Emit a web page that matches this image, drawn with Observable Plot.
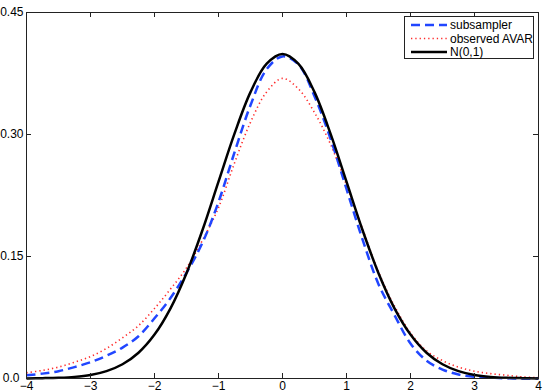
<!DOCTYPE html>
<html>
<head>
<meta charset="utf-8">
<script src="https://cdn.jsdelivr.net/npm/d3@7"></script>
<script src="https://cdn.jsdelivr.net/npm/@observablehq/plot@0.6"></script>
<style>
  html, body { margin: 0; padding: 0; background: #fff; }
  #chart { width: 547px; height: 392px; }
</style>
</head>
<body>
<div id="chart"></div>
<script>
const xs = [-4,-3.75,-3.5,-3.25,-3,-2.75,-2.5,-2.25,-2,-1.75,-1.5,-1.25,-1,-0.75,-0.5,-0.25,0,0.25,0.5,0.75,1,1.25,1.5,1.75,2,2.25,2.5,2.75,3,3.25,3.5,3.75,4];
const subsampler = [0.004,0.006,0.009,0.014,0.020,0.028,0.038,0.052,0.074,0.099,0.130,0.167,0.217,0.278,0.336,0.380,0.396,0.386,0.347,0.295,0.233,0.171,0.116,0.078,0.043,0.022,0.011,0.005,0.002,0.001,0.0003,0.0001,0];
const observedAVAR = [0.007,0.010,0.014,0.020,0.027,0.037,0.050,0.065,0.086,0.110,0.136,0.170,0.210,0.265,0.315,0.352,0.369,0.356,0.327,0.288,0.238,0.184,0.131,0.089,0.056,0.034,0.022,0.014,0.009,0.006,0.004,0.002,0.001];
const normal01 = [0.0001,0.0004,0.0009,0.002,0.0044,0.0091,0.0175,0.0317,0.054,0.0863,0.1295,0.1826,0.242,0.3011,0.3521,0.3867,0.3989,0.3867,0.3521,0.3011,0.242,0.1826,0.1295,0.0863,0.054,0.0317,0.0175,0.0091,0.0044,0.002,0.0009,0.0004,0.0001];
const seriesNames = ["subsampler", "observed AVAR", "N(0,1)"];
const xTicks = [-4,-3,-2,-1,0,1,2,3,4];
const yTicks = [0, 0.15, 0.30, 0.45];
const yTickLabels = ["0.0", "0.15", "0.30", "0.45"];

const styles = {
  "subsampler": {stroke: "#2146ff", strokeWidth: 2.5, dash: "9,5"},
  "observed AVAR": {stroke: "#ff2a2a", strokeWidth: 1.6, dash: "1.3,3"},
  "N(0,1)": {stroke: "#000000", strokeWidth: 2.5, dash: null}
};

const rows = [];
[subsampler, observedAVAR, normal01].forEach((arr, i) => {
  arr.forEach((v, j) => rows.push({series: seriesNames[i], x: xs[j], y: v}));
});

const lineMark = name => Plot.line(rows.filter(d => d.series === name), {
  x: "x", y: "y", curve: "catmull-rom",
  stroke: styles[name].stroke, strokeWidth: styles[name].strokeWidth,
  strokeDasharray: styles[name].dash, strokeLinecap: "butt"
});

const fmtY = d => yTickLabels[yTicks.findIndex(t => Math.abs(t - d) < 1e-9)];
const fmtX = d => (d < 0 ? "\u2212" + Math.abs(d) : String(d));

const W = 547, H = 392, ML = 26, MR = 9, MT = 12, MB = 14;
const innerW = W - ML - MR, innerH = H - MT - MB, TICK = 5;

const chart = Plot.plot({
  width: W,
  height: H,
  marginLeft: ML,
  marginRight: MR,
  marginTop: MT,
  marginBottom: MB,
  style: {fontFamily: "'Liberation Sans', Arial, sans-serif", fontSize: "12px", background: "#fff", color: "#000"},
  x: {domain: [-4, 4]},
  y: {domain: [0, 0.45]},
  marks: [
    lineMark("observed AVAR"),
    lineMark("subsampler"),
    lineMark("N(0,1)"),
    Plot.axisX(xTicks, {anchor: "bottom", tickSize: 0, tickPadding: 3, tickFormat: fmtX, label: null}),
    Plot.axisY(yTicks.slice(1), {anchor: "left", tickSize: 0, tickPadding: 3, tickFormat: fmtY, label: null}),
    Plot.axisY(yTicks.slice(0, 1), {anchor: "left", tickSize: 0, tickPadding: 7, tickFormat: fmtY, label: null}),
    Plot.tickX(xTicks, {x: d => d, insetTop: innerH - TICK, stroke: "#222"}),
    Plot.tickX(xTicks, {x: d => d, insetBottom: innerH - TICK, stroke: "#222"}),
    Plot.tickY(yTicks, {y: d => d, insetRight: innerW - TICK, stroke: "#222"}),
    Plot.tickY(yTicks, {y: d => d, insetLeft: innerW - TICK, stroke: "#222"}),
    Plot.frame({stroke: "#222", strokeWidth: 1})
  ]
});

document.getElementById("chart").appendChild(chart);

// Legend box (top-right, inside plot area)
const svg = d3.select(chart);
const lg = svg.append("g")
  .attr("font-family", "'Liberation Sans', Arial, sans-serif")
  .attr("font-size", 12)
  .attr("text-anchor", "start");
lg.append("rect").attr("x", 404.5).attr("y", 16.5).attr("width", 129).attr("height", 42)
  .attr("fill", "#fff").attr("stroke", "#222").attr("stroke-width", 1);
const rowY = [25, 38.5, 52];
seriesNames.forEach((name, i) => {
  const s = styles[name];
  lg.append("line").attr("x1", 411).attr("x2", 447).attr("y1", rowY[i]).attr("y2", rowY[i])
    .attr("stroke", s.stroke).attr("stroke-width", s.strokeWidth)
    .attr("stroke-dasharray", s.dash);
  lg.append("text").attr("x", 450).attr("y", rowY[i] + 4.2).attr("fill", "#000")
    .attr("text-anchor", "start").text(name);
});
</script>
</body>
</html>
